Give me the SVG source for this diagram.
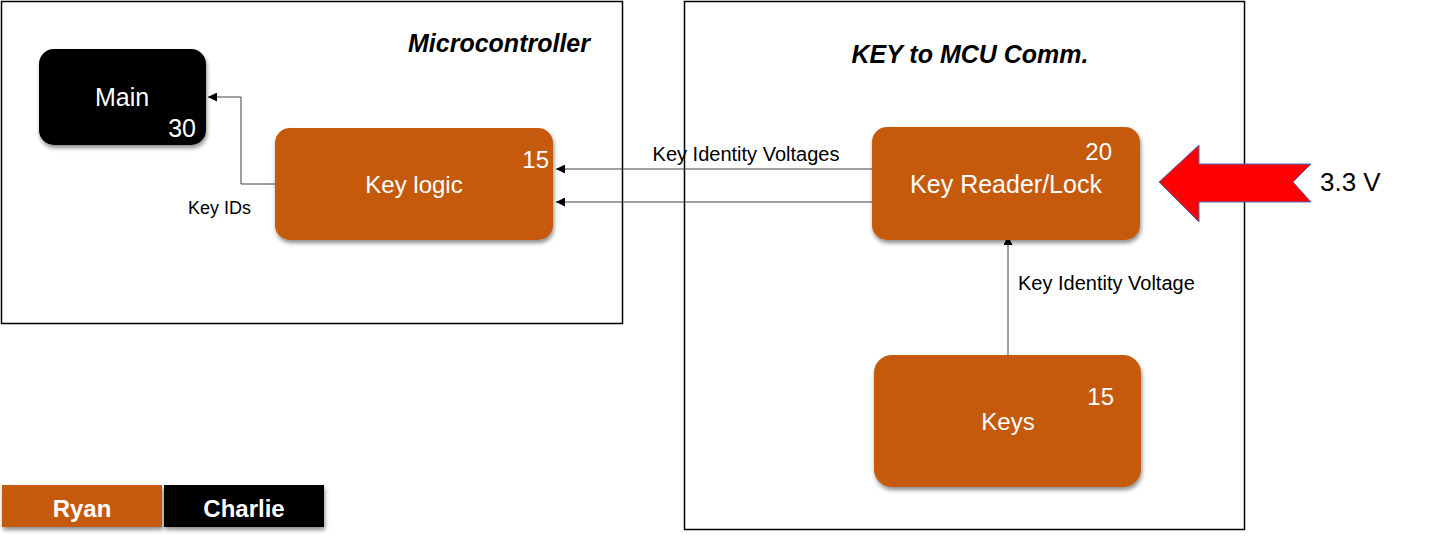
<svg xmlns="http://www.w3.org/2000/svg" width="1432" height="543" viewBox="0 0 1432 543">
<style>
.frame{fill:#fff;stroke:#000;stroke-width:1.5}
.node{fill:#C55A11}
.nodeb{fill:#000}
.t{font-family:"Liberation Sans",Arial,sans-serif;fill:#fff}
.lbl{font-family:"Liberation Sans",Arial,sans-serif;fill:#000}
.title{font-family:"Liberation Sans",Arial,sans-serif;font-weight:bold;font-style:italic;fill:#000;font-size:25px}
.conn{fill:none;stroke:#404040;stroke-width:1}
</style>
<defs>
<marker id="ah" viewBox="0 0 10 10" refX="10" refY="5" markerWidth="9" markerHeight="9" markerUnits="userSpaceOnUse" orient="auto">
<path d="M0,0 L10,5 L0,10 Z" fill="#000"/>
</marker>
<filter id="sh" x="-10%" y="-10%" width="120%" height="130%">
<feGaussianBlur in="SourceAlpha" stdDeviation="2"/>
<feOffset dx="1" dy="3" result="b"/>
<feComponentTransfer><feFuncA type="linear" slope="0.45"/></feComponentTransfer>
<feMerge><feMergeNode/><feMergeNode in="SourceGraphic"/></feMerge>
</filter>
</defs>
<rect width="1432" height="543" fill="#fff"/>
<g id="microcontroller">
<rect class="frame" x="1.5" y="1.5" width="621" height="322"/>
<text class="title" x="590" y="52" text-anchor="end">Microcontroller</text>
</g>
<g id="key-to-mcu">
<rect class="frame" x="684.5" y="1.5" width="560" height="528"/>
<text class="title" x="970" y="63" text-anchor="middle">KEY to MCU Comm.</text>
</g>
<g id="connectors">
<polyline class="conn" points="276,184 241,184 241,97 208,97" marker-end="url(#ah)"/>
<line class="conn" x1="872" y1="169" x2="556" y2="169" marker-end="url(#ah)"/>
<line class="conn" x1="872" y1="202" x2="556" y2="202" marker-end="url(#ah)"/>
<line class="conn" x1="1008" y1="355" x2="1008" y2="236" marker-end="url(#ah)"/>
<text class="lbl" x="188" y="214" font-size="18">Key IDs</text>
<text class="lbl" x="746" y="161" font-size="20" text-anchor="middle">Key Identity Voltages</text>
<text class="lbl" x="1018" y="290" font-size="20">Key Identity Voltage</text>
</g>
<g id="main">
<rect class="nodeb" x="39" y="49" width="167" height="96" rx="15" filter="url(#sh)"/>
<text class="t" x="122" y="106" font-size="25" text-anchor="middle">Main</text>
<text class="t" x="196" y="137" font-size="25" text-anchor="end">30</text>
</g>
<g id="key-logic">
<rect class="node" x="275" y="128" width="278" height="112" rx="15" filter="url(#sh)"/>
<text class="t" x="414" y="193" font-size="24" text-anchor="middle">Key logic</text>
<text class="t" x="549" y="168" font-size="24" text-anchor="end">15</text>
</g>
<g id="key-reader">
<rect class="node" x="872" y="127" width="268" height="113" rx="15" filter="url(#sh)"/>
<text class="t" x="1006" y="193" font-size="25" text-anchor="middle">Key Reader/Lock</text>
<text class="t" x="1112" y="160" font-size="24" text-anchor="end">20</text>
</g>
<g id="keys">
<rect class="node" x="874" y="355" width="267" height="132" rx="18" filter="url(#sh)"/>
<text class="t" x="1008" y="430" font-size="24" text-anchor="middle">Keys</text>
<text class="t" x="1114" y="405" font-size="24" text-anchor="end">15</text>
</g>
<g id="power">
<polygon points="1159,182 1199,145 1199,164 1311,164 1293,182 1311,202 1199,202 1199,222" fill="#FF0000" stroke="#4A6FB5" stroke-width="1"/>
<text class="lbl" x="1320" y="191" font-size="26">3.3 V</text>
</g>
<g id="legend">
<rect x="2" y="485" width="160" height="42" fill="#C55A11" filter="url(#sh)"/>
<rect x="164" y="485" width="160" height="42" fill="#000" filter="url(#sh)"/>
<text class="t" x="82" y="517" font-size="24" font-weight="bold" text-anchor="middle">Ryan</text>
<text class="t" x="244" y="517" font-size="24" font-weight="bold" text-anchor="middle">Charlie</text>
</g>
</svg>
